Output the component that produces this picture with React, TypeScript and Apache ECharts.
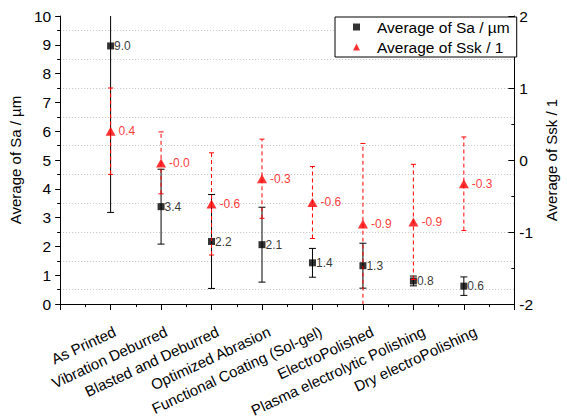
import React, { useEffect, useRef } from "react";
import * as echarts from "echarts";

const categories = [
  "As Printed",
  "Vibration Deburred",
  "Blasted and Deburred",
  "Optimized Abrasion",
  "Functional Coating (Sol-gel)",
  "ElectroPolished",
  "Plasma electrolytic Polishing",
  "Dry electroPolishing",
];
const saMean = [8.96, 3.38, 2.17, 2.06, 1.43, 1.33, 0.8, 0.62];
const saErr = [5.78, 1.3, 1.63, 1.3, 0.5, 0.78, 0.17, 0.32];
const sskMean = [0.4, -0.04, -0.61, -0.26, -0.59, -0.89, -0.86, -0.33];
const sskErr = [0.6, 0.43, 0.71, 0.55, 0.5, 1.12, 0.8, 0.65];

const SA_NAME = "Average of Sa / µm";
const SSK_NAME = "Average of Ssk / 1";
const FONT = "'Liberation Sans', Arial, sans-serif";

function errorRender(color: string, capW: number, dash: number[] | null) {
  return (params: any, api: any) => {
    const x = api.value(0);
    const lo = api.value(1);
    const hi = api.value(2);
    const pLo = api.coord([x, lo]);
    const pHi = api.coord([x, hi]);
    const hw = capW / 2;
    return {
      type: "group",
      children: [
        {
          type: "line",
          shape: { x1: pLo[0], y1: pLo[1], x2: pHi[0], y2: pHi[1] },
          style: { stroke: color, lineWidth: 1, lineDash: dash || undefined },
        },
        {
          type: "line",
          shape: { x1: pLo[0] - hw, y1: pLo[1], x2: pLo[0] + hw, y2: pLo[1] },
          style: { stroke: color, lineWidth: 1 },
        },
        {
          type: "line",
          shape: { x1: pHi[0] - hw, y1: pHi[1], x2: pHi[0] + hw, y2: pHi[1] },
          style: { stroke: color, lineWidth: 1 },
        },
      ],
    };
  };
}

export default function App() {
  const ref = useRef<HTMLDivElement>(null);
  useEffect(() => {
    if (!ref.current) return;
    const chart = echarts.init(ref.current, null, { renderer: "svg" });
    const saPts = saMean.map((v, i) => [i + 1, v]);
    const sskPts = sskMean.map((v, i) => [i + 1, v]);
    const saBars = saMean.map((v, i) => [i + 1, v - saErr[i], v + saErr[i]]);
    const sskBars = sskMean.map((v, i) => [i + 1, v - sskErr[i], v + sskErr[i]]);
    chart.setOption({
      animation: false,
      backgroundColor: "#fff",
      textStyle: { fontFamily: FONT },
      grid: [
        { left: 59, right: 44, top: 16, bottom: 115, containLabel: false },
        { left: 60, right: 43, top: 16, bottom: 115, containLabel: false },
      ],
      legend: {
        left: 335,
        top: 17,
        orient: "vertical",
        data: [
          { name: SA_NAME, icon: "rect" },
          { name: SSK_NAME, icon: "triangle" },
        ],
        itemWidth: 7,
        itemHeight: 7,
        itemGap: 4,
        padding: [2, 7, 2, 18],
        borderColor: "#000",
        borderWidth: 1,
        borderRadius: 0,
        backgroundColor: "#fff",
        textStyle: {
          fontSize: 15.5,
          fontFamily: FONT,
          color: "#000",
          padding: [0, 0, 0, 12],
          lineHeight: 15,
        },
      },
      xAxis: [
        {
          type: "value",
          gridIndex: 0,
          min: 0,
          max: 9,
          interval: 1,
          axisLine: { show: true, onZero: false, lineStyle: { color: "#000", width: 1 } },
          axisTick: { show: true, length: 6, lineStyle: { color: "#000" } },
          minorTick: { show: true, splitNumber: 2, length: 3, lineStyle: { color: "#000" } },
          axisLabel: { show: false },
          splitLine: { show: false },
        },
        {
          type: "value",
          gridIndex: 1,
          min: 0,
          max: 9,
          interval: 1,
          axisLine: { show: false, onZero: false },
          axisTick: { show: false },
          splitLine: { show: false },
          axisLabel: {
            formatter: (v: number) => categories[Math.round(v) - 1] ?? "",
            rotate: 25,
            align: "right",
            verticalAlign: "top",
            margin: 20,
            fontSize: 15,
            fontFamily: FONT,
            color: "#000",
          },
        },
      ],
      yAxis: [
        {
          type: "value",
          gridIndex: 0,
          min: 0,
          max: 10,
          interval: 1,
          position: "left",
          axisLine: { show: true, onZero: false, lineStyle: { color: "#000", width: 1 } },
          axisTick: { show: true, length: 5, lineStyle: { color: "#000" } },
          minorTick: { show: true, splitNumber: 2, length: 3, lineStyle: { color: "#000" } },
          minorSplitLine: { show: true, lineStyle: { color: "#c0c0c0", type: [1, 2], width: 1 } },
          splitLine: { show: false },
          axisLabel: { fontSize: 15.5, fontFamily: FONT, color: "#000", margin: 9 },
          name: SA_NAME,
          nameLocation: "middle",
          nameGap: 31,
          nameRotate: 90,
          nameTextStyle: { fontSize: 15, fontFamily: FONT, color: "#000" },
        },
        {
          type: "value",
          gridIndex: 0,
          min: -2,
          max: 2,
          interval: 1,
          position: "right",
          axisLine: { show: true, onZero: false, lineStyle: { color: "#000", width: 1 } },
          axisTick: { show: true, inside: true, length: 6, lineStyle: { color: "#000" } },
          minorTick: { show: true, splitNumber: 2, length: 3, lineStyle: { color: "#000" } },
          splitLine: { show: false },
          axisLabel: { fontSize: 15.5, fontFamily: FONT, color: "#000", margin: 5 },
          name: SSK_NAME,
          nameLocation: "middle",
          nameGap: 26,
          nameRotate: 90,
          nameTextStyle: { fontSize: 15, fontFamily: FONT, color: "#000" },
        },
        {
          type: "value",
          gridIndex: 1,
          min: 0,
          max: 1,
          show: false,
        },
      ],
      series: [
        {
          type: "custom",
          name: "saErr",
          xAxisIndex: 0,
          yAxisIndex: 0,
          clip: true,
          renderItem: errorRender("#000", 7, null),
          encode: { x: 0, y: [1, 2] },
          data: saBars,
          z: 2,
        },
        {
          type: "scatter",
          name: SA_NAME,
          xAxisIndex: 0,
          yAxisIndex: 0,
          symbol: "rect",
          symbolSize: 7,
          itemStyle: { color: "#000" },
          data: saPts,
          z: 3,
          label: {
            show: true,
            position: "right",
            distance: 0,
            formatter: (p: any) => p.value[1].toFixed(1),
            fontSize: 12,
            fontFamily: FONT,
            color: "#000",
          },
        },
        {
          type: "custom",
          name: "sskErr",
          xAxisIndex: 0,
          yAxisIndex: 1,
          clip: true,
          renderItem: errorRender("#ff0000", 5, [4, 3]),
          encode: { x: 0, y: [1, 2] },
          data: sskBars,
          z: 4,
        },
        {
          type: "scatter",
          name: SSK_NAME,
          xAxisIndex: 0,
          yAxisIndex: 1,
          symbol: "triangle",
          symbolSize: [10, 9],
          itemStyle: { color: "#ff0000" },
          data: sskPts,
          z: 5,
          label: {
            show: true,
            position: "right",
            distance: 3,
            formatter: (p: any) => p.value[1].toFixed(1),
            fontSize: 12,
            fontFamily: FONT,
            color: "#ff0000",
          },
        },
      ],
    });
    return () => chart.dispose();
  }, []);
  return (
    <div
      ref={ref}
      style={{ position: "fixed", left: 0, top: 0, width: 567, height: 419 }}
    />
  );
}
